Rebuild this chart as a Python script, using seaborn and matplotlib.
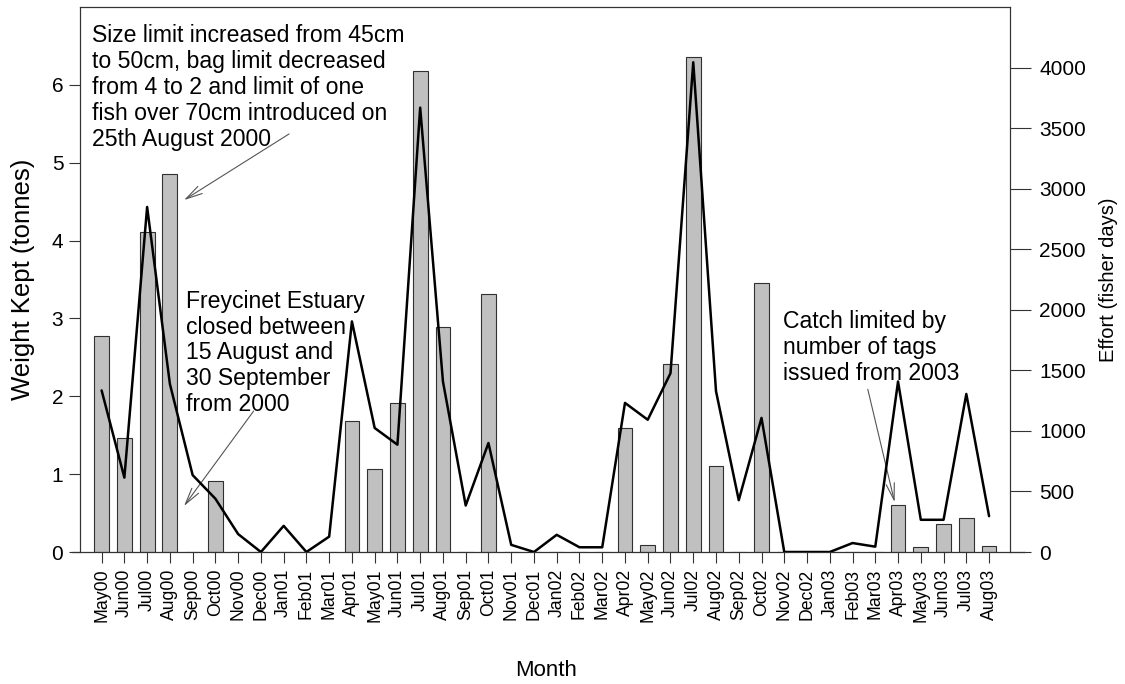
import numpy as np
import pandas as pd
import matplotlib
matplotlib.use("Agg")
import matplotlib.pyplot as plt
import seaborn as sns

# aylar (May 2000 - Aug 2003)
months = ["May00", "Jun00", "Jul00", "Aug00", "Sep00", "Oct00", "Nov00", "Dec00",
          "Jan01", "Feb01", "Mar01", "Apr01", "May01", "Jun01", "Jul01", "Aug01",
          "Sep01", "Oct01", "Nov01", "Dec01", "Jan02", "Feb02", "Mar02", "Apr02",
          "May02", "Jun02", "Jul02", "Aug02", "Sep02", "Oct02", "Nov02", "Dec02",
          "Jan03", "Feb03", "Mar03", "Apr03", "May03", "Jun03", "Jul03", "Aug03"]

# sol eksen: tutulan agirlik (ton)
weight_kept = [2.77, 1.47, 4.11, 4.85, 0.0, 0.91, 0.0, 0.0,
               0.0, 0.0, 0.0, 1.68, 1.07, 1.92, 6.18, 2.89,
               0.0, 3.32, 0.0, 0.0, 0.0, 0.0, 0.0, 1.59,
               0.09, 2.42, 6.36, 1.10, 0.0, 3.46, 0.0, 0.0,
               0.0, 0.0, 0.0, 0.61, 0.07, 0.36, 0.44, 0.08]

# sag eksen: efor (fisher days)
effort = [1334, 614, 2849, 1388, 635, 440, 148, 0,
          216, 0, 127, 1904, 1024, 886, 3669, 1408,
          384, 900, 59, 0, 142, 39, 39, 1231,
          1092, 1476, 4044, 1328, 428, 1107, 0, 0,
          0, 74, 44, 1408, 266, 266, 1305, 296]

df = pd.DataFrame({"month": months, "weight": weight_kept, "effort": effort})
df["pos"] = np.arange(len(df))

sns.set_theme(style="ticks")
plt.rcParams["font.family"] = ["Liberation Sans", "DejaVu Sans"]
plt.rcParams["text.color"] = "black"
plt.rcParams["axes.labelcolor"] = "black"
plt.rcParams["xtick.color"] = "black"
plt.rcParams["ytick.color"] = "black"

W, H = 1125, 684
fig = plt.figure(figsize=(W / 100, H / 100), dpi=100)
ax = fig.add_axes([80 / W, 1 - 552 / H, 930 / W, 545 / H])

sns.barplot(data=df, x="pos", y="weight", ax=ax, color="#c0c0c0", width=0.65,
            edgecolor="#303030", linewidth=0.8, saturation=1, native_scale=True)
ax.set_xlim(-0.95, 39.92)
ax.set_ylim(0, 7)
ax.set_yticks(range(0, 7))
ax.set_xticks(df["pos"])
ax.set_xticklabels(months, rotation=90, fontsize=12.7)
ax.tick_params(axis="y", labelsize=15, length=8, width=0.8, color="#333333", pad=4)
ax.tick_params(axis="x", length=8, width=0.8, color="#333333", pad=4)
ax.set_xlabel("")
ax.set_ylabel("Weight Kept (tonnes)", fontsize=18.5, labelpad=12)
for sp in ax.spines.values():
    sp.set_color("#333333")
    sp.set_linewidth(0.8)
ax.spines["bottom"].set_visible(False)
# x ekseni cizgisi kutunun disina tasiyor
ax.plot([-0.009, 1.016], [0, 0], transform=ax.transAxes, clip_on=False,
        color="#333333", lw=0.9)

ax2 = ax.twinx()
sns.lineplot(data=df, x="pos", y="effort", ax=ax2, color="black", linewidth=1.8)
ax2.set_ylim(0, 4500)
ax2.set_yticks(range(0, 4001, 500))
ax2.tick_params(axis="y", labelsize=15, length=15, width=0.8, color="#333333", pad=6)
ax2.set_ylabel("Effort (fisher days)", fontsize=14.5, labelpad=9)
ax2.set_xlabel("")
for sp in ax2.spines.values():
    sp.set_color("#333333")
    sp.set_linewidth(0.8)
ax2.spines["bottom"].set_visible(False)

fig.text(546 / W, 1 - 670 / H, "Month", fontsize=16, ha="center", va="center")

# notlar
arrow = dict(arrowstyle="->,head_length=1.0,head_width=0.25", color="#555555", lw=0.8,
             shrinkA=0, shrinkB=0)
note_kw = dict(fontsize=16.6, va="top", ha="left", linespacing=1.16)
ax.text(-0.43, 6.78, "Size limit increased from 45cm\nto 50cm, bag limit decreased\n"
        "from 4 to 2 and limit of one\nfish over 70cm introduced on\n25th August 2000",
        **note_kw)
ax.annotate("", xy=(3.62, 4.52), xytext=(8.24, 5.37), arrowprops=arrow)

ax.text(3.71, 3.37, "Freycinet Estuary\nclosed between\n15 August and\n30 September\nfrom 2000",
        **note_kw)
ax.annotate("", xy=(3.62, 0.59), xytext=(6.68, 1.81), arrowprops=arrow)

ax.text(29.95, 3.11, "Catch limited by\nnumber of tags\nissued from 2003", **note_kw)
ax.annotate("", xy=(34.85, 0.64), xytext=(33.67, 2.09), arrowprops=arrow)

fig.savefig("out.png", dpi=100)
